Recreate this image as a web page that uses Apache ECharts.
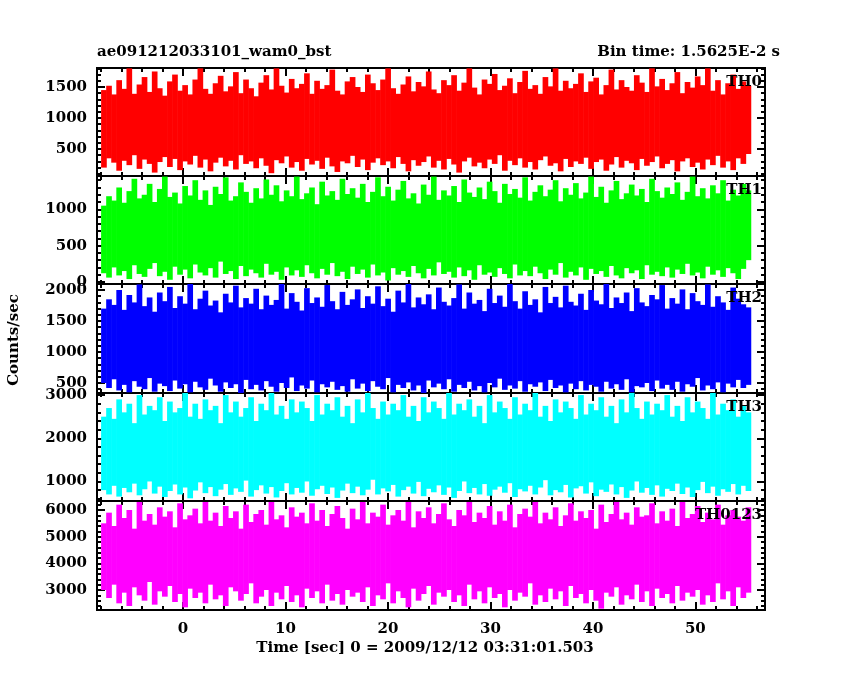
<!DOCTYPE html>
<html><head><meta charset="utf-8">
<script src="https://cdn.jsdelivr.net/npm/echarts@6/dist/echarts.min.js"></script>
<style>html,body{margin:0;padding:0;background:#fff}#c{width:850px;height:680px}</style>
</head><body><div id="c"></div>
<script>
var T_START = -8.0, T_END = 55.4;
var X_MIN = -8.4, X_MAX = 56.8;
var xMajor = [0,10,20,30,40,50];
var xMinor = [-8,-6,-4,-2,2,4,6,8,12,14,16,18,22,24,26,28,32,34,36,38,42,44,46,48,52,54,56];
var panelNames = ['TH0','TH1','TH2','TH3','TH0123'];
var colors = ['#ff0000','#00ff00','#0000ff','#00ffff','#ff00ff'];
var yRanges = [[65,1806],[-28,1458],[339,2097],[548,3048],[2250,6337]];
var yMajor = [[500,1000,1500],[0,500,1000],[500,1000,1500,2000],[1000,2000,3000],[3000,4000,5000,6000]];
var yMinorStep = [100,100,100,200,200];

var th0Hi=[1450,1520,1380,1610,1470,1800,1390,1540,1660,1420,1750,1480,1360,1590,1700,1440,1530,1380,1620,1800,1470,1390,1560,1680,1430,1510,1740,1400,1620,1480,1350,1570,1690,1460,1800,1520,1410,1630,1480,1550,1720,1390,1600,1470,1530,1780,1440,1380,1590,1660,1500,1420,1700,1560,1450,1620,1800,1480,1390,1540,1670,1430,1580,1510,1750,1460,1400,1610,1530,1690,1440,1570,1800,1490,1380,1620,1550,1710,1450,1520,1640,1400,1580,1760,1470,1530,1390,1660,1510,1800,1440,1600,1480,1550,1720,1420,1590,1650,1380,1530,1780,1460,1610,1500,1440,1690,1570,1420,1800,1510,1630,1450,1560,1740,1400,1580,1490,1670,1530,1800,1440,1610,1380,1560,1700,1470,1590,1520];
var th0Lo=[200,350,280,150,310,240,400,180,330,260,120,290,370,210,340,160,300,250,390,200,330,140,280,360,220,310,170,400,260,300,190,350,230,110,320,270,380,200,290,150,340,250,310,180,360,220,130,300,270,390,210,330,160,280,350,240,300,190,370,260,140,320,230,290,380,200,310,170,340,250,120,300,360,220,280,190,330,260,400,150,310,240,350,200,290,170,320,380,230,270,140,340,210,300,260,360,180,290,330,150,250,370,200,310,270,160,340,230,290,380,190,260,320,140,300,350,210,280,170,330,240,390,200,300,160,350,260,420];
var th1Hi=[1050,1180,1120,1300,1090,1250,1420,1150,1200,1350,1100,1280,1450,1170,1230,1080,1320,1190,1400,1130,1260,1060,1310,1210,1440,1120,1180,1370,1240,1090,1290,1150,1410,1200,1330,1110,1260,1180,1450,1140,1220,1300,1070,1380,1190,1250,1130,1420,1210,1290,1160,1350,1100,1240,1440,1180,1310,1120,1270,1390,1150,1220,1080,1340,1200,1450,1130,1260,1190,1320,1100,1410,1230,1170,1300,1140,1380,1250,1090,1350,1210,1280,1160,1440,1120,1240,1330,1180,1270,1400,1110,1290,1200,1360,1150,1230,1450,1170,1310,1090,1260,1390,1140,1220,1340,1190,1280,1100,1420,1250,1160,1300,1210,1370,1130,1240,1450,1180,1290,1150,1330,1220,1400,1120,1270,1190,1350,1260];
var th1Lo=[120,60,200,90,150,40,230,110,70,180,260,80,140,30,210,100,170,50,240,130,90,190,60,280,110,150,40,220,80,170,120,60,250,100,140,30,200,90,160,70,230,120,50,180,100,260,80,140,40,210,110,170,60,240,90,130,20,190,100,150,70,220,120,50,180,90,270,110,140,60,200,80,160,30,230,100,130,70,190,110,50,240,90,150,80,210,120,40,170,100,260,60,140,90,200,30,180,110,150,70,220,90,50,190,120,160,40,230,100,140,80,200,60,170,110,250,90,130,50,210,100,160,70,190,120,40,180,300];
var th2Hi=[1700,1850,1760,2000,1680,1920,1800,2090,1740,1880,1650,1960,1820,2050,1710,1900,1780,2100,1690,1860,1990,1750,1830,1640,1940,1800,2070,1720,1870,1780,2020,1690,1910,1760,1840,2100,1700,1950,1810,1670,2030,1790,1880,1730,2080,1820,1690,1970,1760,1850,2010,1710,1900,1780,2060,1740,1860,1650,1990,1800,2100,1720,1880,1770,1930,1690,2040,1810,1750,1870,2090,1700,1960,1780,1840,1660,2020,1790,1910,1730,2100,1820,1700,1980,1760,1850,1640,2050,1790,1890,1720,2070,1810,1750,1940,1680,2000,1830,1770,2100,1710,1880,1790,1960,1660,2030,1800,1740,1920,1850,2080,1700,1870,1780,2010,1690,1950,1820,1760,2090,1730,1900,1800,1680,2040,1860,1770,1720];
var th2Lo=[500,420,560,380,470,350,530,440,400,580,360,490,450,370,540,410,480,350,520,430,390,570,460,360,510,420,480,340,550,400,470,380,530,440,360,500,420,590,370,460,410,540,350,480,430,520,390,450,360,560,410,490,370,530,440,400,580,350,470,420,510,380,460,340,540,430,490,400,560,360,470,420,520,380,450,350,500,430,570,390,460,410,530,360,480,440,510,370,550,420,460,350,490,400,530,380,470,440,360,520,410,480,390,560,350,450,430,500,370,540,410,470,390,520,360,480,440,580,380,460,400,510,350,490,430,550,420,470];
var th3Hi=[2500,2700,2450,2900,2600,2800,2350,3000,2550,2750,2650,2950,2400,2850,2600,2700,3050,2500,2800,2450,2900,2650,2750,2350,3000,2600,2850,2500,2700,2950,2400,2800,2650,3050,2550,2750,2450,2900,2600,2850,2700,2400,3000,2550,2800,2650,2950,2500,2750,2350,2900,2600,3050,2700,2450,2850,2550,2800,2650,3000,2500,2750,2400,2950,2600,2850,2700,2450,3050,2550,2800,2650,2900,2500,2750,2350,3000,2600,2850,2700,2450,2950,2550,2800,2650,3050,2500,2750,2400,2900,2600,2850,2700,2450,3000,2550,2800,2650,2950,2500,2750,2350,2900,2600,3050,2700,2450,2850,2550,2800,2650,3000,2500,2750,2400,2950,2600,2850,2700,2450,3050,2550,2800,2650,2900,2500,2750,2600];
var th3Lo=[800,700,900,650,850,750,950,680,820,1000,720,880,640,780,930,700,860,610,790,980,730,870,660,810,940,690,840,760,1020,650,800,910,720,870,630,780,960,700,850,740,1000,670,820,900,710,860,620,790,950,730,880,680,810,1040,700,840,770,920,650,800,880,720,990,660,830,750,910,690,860,620,780,1000,730,850,700,940,670,810,880,740,960,640,820,770,900,700,860,1030,680,800,750,920,630,840,890,720,980,660,810,760,930,700,870,620,790,1000,740,850,690,910,650,830,780,950,710,860,640,800,990,730,880,670,820,760,940,700,900,780,650,880,720,940,690,810,860];
var th4Hi=[5500,5900,5400,6200,5700,6000,5300,6300,5600,5850,5450,6100,5750,5950,5350,6250,5650,5800,6050,5500,6300,5600,5900,5400,6150,5700,5950,5300,6200,5550,5850,6000,5450,6300,5650,5800,5350,6100,5750,5900,5500,6250,5600,6000,5400,5850,6150,5700,5300,6050,5650,6300,5500,5900,5750,6200,5450,5800,6000,5600,6300,5350,5950,5700,6100,5500,5850,6250,5650,5400,6000,5800,6300,5550,5900,5700,6150,5450,5950,5600,6200,5350,5850,6050,5750,6300,5500,5900,5650,6100,5400,5800,6250,5600,5950,5700,6000,5300,6200,5550,5850,6300,5650,5900,5450,6100,5750,5800,6250,5500,5950,5600,6050,5400,6300,5700,5850,6150,5550,5900,5650,6200,5450,5800,6000,5750,5600,6100];
var th4Lo=[3000,2700,3200,2500,2900,2400,3100,2800,2600,3300,2450,2950,2750,3150,2550,2850,2350,3050,2700,2900,2500,3200,2650,2800,2400,3100,2950,2600,2850,3250,2500,2750,3000,2400,2900,2650,3150,2550,2800,2350,3050,2700,2950,2500,3200,2600,2850,2450,3000,2750,2900,2550,3100,2400,2800,2650,3250,2500,2950,2700,2350,3050,2600,2850,3150,2450,2900,2750,3000,2550,2800,2400,3200,2650,2950,2500,3100,2700,2850,2350,3000,2600,2900,2750,3250,2450,2800,2550,3050,2650,2950,2400,3150,2700,2850,2500,3000,2600,2300,2900,2750,3100,2450,2800,2650,3200,2550,2950,2400,3050,2700,2850,2500,3150,2600,2900,2750,3000,2450,2800,2550,3250,2650,2950,2400,3100,2700,2900];
var his=[th0Hi,th1Hi,th2Hi,th3Hi,th4Hi], los=[th0Lo,th1Lo,th2Lo,th3Lo,th4Lo];

var FONT = 'DejaVu Serif';
var tops=[68,176,284,393,501], heights=[108,108,109,108,109];
var grids=[],xAxes=[],yAxes=[],series=[],graphics=[];
function rangeVals(a,b,s,skip){var r=[];for(var v=Math.ceil(a/s)*s;v<=b;v+=s){if(skip.indexOf(v)<0)r.push(v);}return r;}
function fmt(v){return String(v);}
for(var p=0;p<5;p++){
  grids.push({left:97,width:668,top:tops[p],height:heights[p]});
  var xi=xAxes.length, yi=yAxes.length;
  [['bottom',xMajor,8,p===4],['bottom',xMinor,4,false],['top',xMajor,8,false],['top',xMinor,4,false]].forEach(function(d){
    xAxes.push({type:'value',gridIndex:p,position:d[0],min:X_MIN,max:X_MAX,
      axisLine:{show:true,onZero:false,lineStyle:{color:'#000',width:2}},splitLine:{show:false},
      axisTick:{show:true,inside:true,length:d[2],customValues:d[1],lineStyle:{color:'#000',width:2}},
      axisLabel:{show:d[3],customValues:d[1],formatter:fmt,color:'#000',fontFamily:FONT,fontWeight:'bold',fontSize:15,margin:12}});
  });
  var r=yRanges[p], mn=rangeVals(r[0],r[1],yMinorStep[p],yMajor[p]);
  [['left',yMajor[p],8,true],['left',mn,4,false],['right',yMajor[p],8,false],['right',mn,4,false]].forEach(function(d){
    yAxes.push({type:'value',gridIndex:p,position:d[0],min:r[0],max:r[1],
      axisLine:{show:true,onZero:false,lineStyle:{color:'#000',width:2}},splitLine:{show:false},
      axisTick:{show:true,inside:true,length:d[2],customValues:d[1],lineStyle:{color:'#000',width:2}},
      axisLabel:{show:d[3],customValues:d[1],formatter:fmt,color:'#000',fontFamily:FONT,fontWeight:'bold',fontSize:15,margin:10}});
  });
  var hi=his[p], lo=los[p], n=Math.min(hi.length,lo.length), dt=(T_END-T_START)/n, data=[];
  for(var i=0;i<n;i++) data.push([T_START+i*dt, lo[i], hi[i], T_START+(i+1)*dt]);
  series.push({type:'custom',xAxisIndex:xi,yAxisIndex:yi,clip:true,silent:true,data:data,
    encode:{x:[0,3],y:[1,2]},
    renderItem:(function(col){return function(params,api){
      var a=api.coord([api.value(0),api.value(1)]), b=api.coord([api.value(3),api.value(2)]);
      return {type:'rect',shape:{x:a[0],y:b[1],width:b[0]-a[0]+0.6,height:a[1]-b[1]},style:{fill:col}};
    };})(colors[p])});
  graphics.push({type:'text',right:88,top:tops[p]+7,z:100,style:{text:panelNames[p],fill:'#000',font:'bold 15px "'+FONT+'"'}});
}
graphics.push({type:'text',left:97,top:45,style:{text:'ae091212033101_wam0_bst',fill:'#000',font:'bold 15px "'+FONT+'"'}});
graphics.push({type:'text',right:70,top:45,style:{text:'Bin time: 1.5625E-2 s',fill:'#000',font:'bold 15px "'+FONT+'"'}});
graphics.push({type:'text',x:425,y:648,style:{text:'Time [sec] 0 = 2009/12/12 03:31:01.503',fill:'#000',font:'bold 15px "'+FONT+'"',align:'center',verticalAlign:'middle'}});
graphics.push({type:'text',x:14,y:340,rotation:Math.PI/2,style:{text:'Counts/sec',fill:'#000',font:'bold 15px "'+FONT+'"',align:'center',verticalAlign:'middle'}});
var chart=echarts.init(document.getElementById('c'));
chart.setOption({animation:false,backgroundColor:'#fff',grid:grids,xAxis:xAxes,yAxis:yAxes,series:series,graphic:graphics});
</script></body></html>
